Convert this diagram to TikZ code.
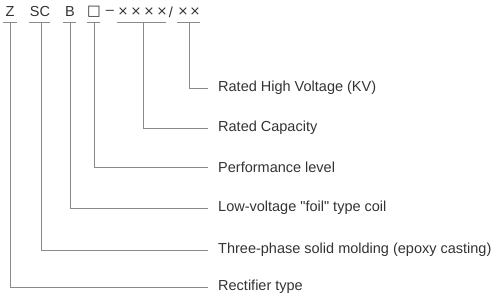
\documentclass[tikz,border=0pt]{standalone}
\usepackage{fontspec}
\setmainfont{Liberation Sans}[Ligatures=TeXOff]
\newfontfamily\symfont{DejaVu Sans}
\usepackage{tikz}

\definecolor{textgray}{HTML}{333333}
\definecolor{linegray}{HTML}{8A8A8A}

\begin{document}
\begin{tikzpicture}[x=1pt,y=-1pt,
    every node/.style={font=\fontsize{14.5}{16}\selectfont, text=textgray, inner sep=0pt},
    leader/.style={draw=linegray, line width=0.8pt},
    caption/.style={anchor=west, inner xsep=10pt}]
    \useasboundingbox (0,0) rectangle (496,306);
    % type code
    \node (z) at (10,12) {Z};
    \node (sc) at (40,12) {SC};
    \node (b) at (70,12) {B};
    \node (sq) at (94,12) {\symfont □};
    \node (dash) at (110,12) {–};
    \foreach \i/\x in {1/123,2/136,3/149,4/162}
      \node (cap\i) at (\x,12) {\symfont\fontsize{13}{15}\selectfont ×};
    \node (slash) at (171,12) {/};
    \foreach \i/\x in {1/183,2/195}
      \node (kv\i) at (\x,12) {\symfont\fontsize{13}{15}\selectfont ×};
    % underlines
    \draw[leader] (3,22) -- (17,22);
    \draw[leader] (29,22) -- (50,22);
    \draw[leader] (63,22) -- (76,22);
    \draw[leader] (87,22) -- (100,22);
    \draw[leader] (117,22) -- (166,22);
    \draw[leader] (177,22) -- (200,22);
    \coordinate (zfoot) at (10,22);
    \coordinate (scfoot) at (41,22);
    \coordinate (bfoot) at (70,22);
    \coordinate (sqfoot) at (94,22);
    \coordinate (capfoot) at (143,22);
    \coordinate (kvfoot) at (189,22);
    % captions
    \node[caption] (voltage) at (208,88) {Rated High Voltage (KV)};
    \node[caption] (capacity) at (208,128) {Rated Capacity};
    \node[caption] (level) at (208,167) {Performance level};
    \node[caption] (coil) at (208,208) {Low-voltage "foil" type coil};
    \node[caption] (molding) at (208,250) {Three-phase solid molding (epoxy casting)};
    \node[caption] (rectifier) at (208,287) {Rectifier type};
    % leaders
    \draw[leader] (kvfoot) |- (voltage.west);
    \draw[leader] (capfoot) |- (capacity.west);
    \draw[leader] (sqfoot) |- (level.west);
    \draw[leader] (bfoot) |- (coil.west);
    \draw[leader] (scfoot) |- (molding.west);
    \draw[leader] (zfoot) |- (rectifier.west);
\end{tikzpicture}
\end{document}
